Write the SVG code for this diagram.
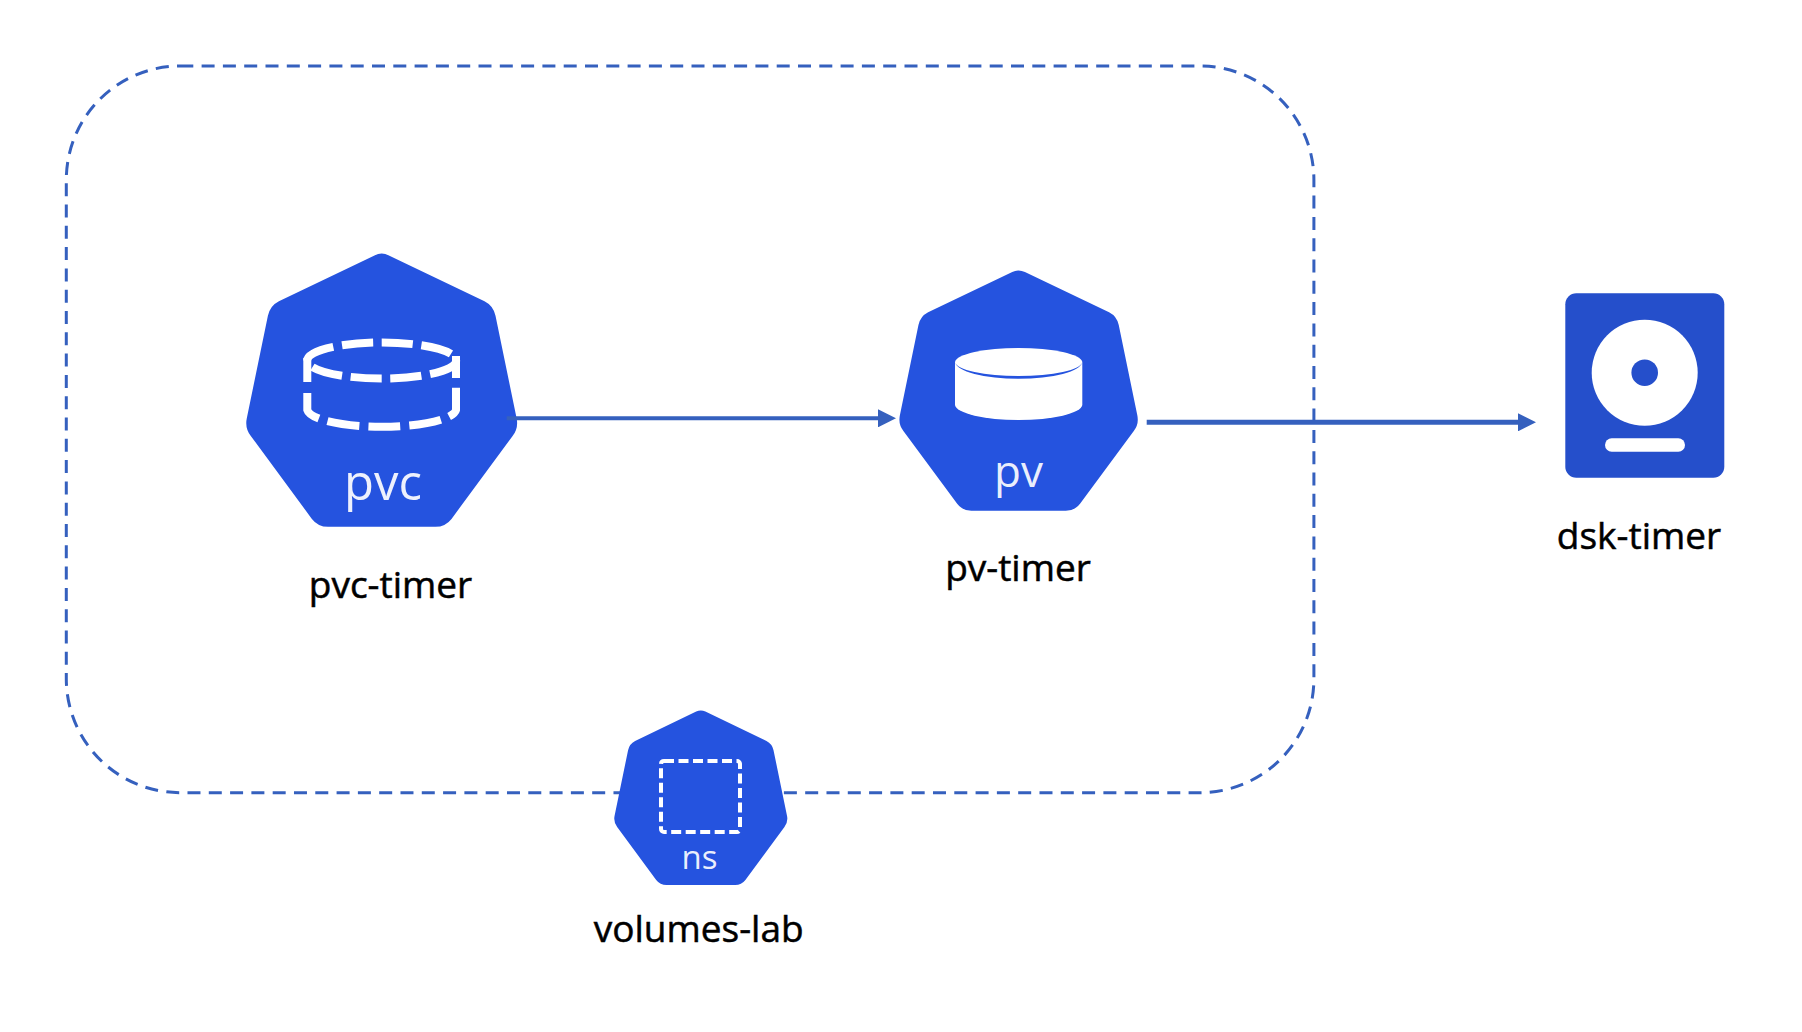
<svg xmlns="http://www.w3.org/2000/svg" xmlns:xlink="http://www.w3.org/1999/xlink" width="1802" height="1032" viewBox="0 0 1802 1032">
<style>
.hept{fill:#2553DF}
.lbl{font-family:"Open Sans","Noto Sans",sans-serif;font-size:37px;fill:#000;stroke:#000;stroke-width:.5px;text-anchor:middle}
.ico{font-family:"Open Sans","Noto Sans",sans-serif;font-weight:400;fill:#fff;fill-opacity:.92;text-anchor:middle}
.conn{stroke:#3560BE;fill:none}
.dash{fill:none;stroke:#fff;stroke-width:8}
</style>
<defs>
<path id="h" d="M-7.2,3.6Q0,0 7.2,3.6L102.8,49.5Q111.7,54 113.8,64L134.9,166.5Q137,176.3 130.9,184.2L69.8,267.1Q63.7,275 53.7,275L-53.7,275Q-63.7,275 -69.8,267.1L-130.9,184.2Q-137,176.3 -134.9,166.5L-113.8,64Q-111.7,54 -102.8,49.5Z"/>
<marker id="arr" markerUnits="userSpaceOnUse" markerWidth="19" markerHeight="18" refX="1" refY="9" orient="auto"><path d="M0,0L18,9L0,18Z" fill="#3560BE"/></marker>
</defs>
<rect width="1802" height="1032" fill="#fff"/>
<g id="namespace-boundary">
<rect class="conn" x="66.3" y="66" width="1247.6" height="726.7" rx="114" ry="114" stroke-width="3" stroke-dasharray="13 8.3"/>
</g>
<g id="node-pvc">
<use xlink:href="#h" href="#h" class="hept" transform="translate(381.7,251.8)"/>
<ellipse class="dash" cx="381.7" cy="360.5" rx="74.5" ry="18" pathLength="328" stroke-dasharray="32 9"/>
<path class="dash" d="M307.3,358V382M456,356V378"/>
<path class="dash" d="M307.3,393V410A74.5 18 0 0 0 456,410V383" stroke-dasharray="32 9"/>
<text class="ico" x="383" y="500" font-size="49">pvc</text>
<text class="lbl" x="390.5" y="597.5">pvc-timer</text>
</g>
<g id="node-pv">
<use xlink:href="#h" href="#h" class="hept" transform="translate(1018.6,268.8) scale(.88)"/>
<path d="M955,362V405A63.7 15.7 0 0 0 1082.3,405V362A63.7 14.7 0 0 0 955,362Z" fill="#fff"/>
<path d="M955,362A63.7 14.7 0 0 0 1082.3,362A63.7 17.5 0 0 1 955,362Z" fill="#2553DF"/>
<text class="ico" x="1018.5" y="487.3" font-size="44">pv</text>
<text class="lbl" x="1018" y="580.5">pv-timer</text>
</g>
<g id="node-ns">
<use xlink:href="#h" href="#h" class="hept" transform="translate(700.8,709.3) scale(.639)"/>
<rect x="661" y="761" width="79" height="71" rx="3" fill="none" stroke="#fff" stroke-width="4" stroke-dasharray="10 4.5"/>
<text class="ico" x="699.6" y="869" font-size="33">ns</text>
<text class="lbl" x="698.7" y="942">volumes-lab</text>
</g>
<g id="node-disk">
<rect x="1565.3" y="293.3" width="159" height="184.4" rx="11" fill="#254FCB"/>
<circle cx="1644.7" cy="372.7" r="53" fill="#fff"/>
<circle cx="1644.7" cy="372.7" r="13.3" fill="#254FCB"/>
<rect x="1605" y="438.3" width="80" height="13.4" rx="6.7" fill="#fff"/>
<text class="lbl" x="1639" y="548.5">dsk-timer</text>
</g>
<g id="connectors">
<path class="conn" d="M506.7,418.3H879" stroke-width="4" marker-end="url(#arr)"/>
<path class="conn" d="M1146.7,422.3H1519" stroke-width="5" marker-end="url(#arr)"/>
</g>
</svg>
